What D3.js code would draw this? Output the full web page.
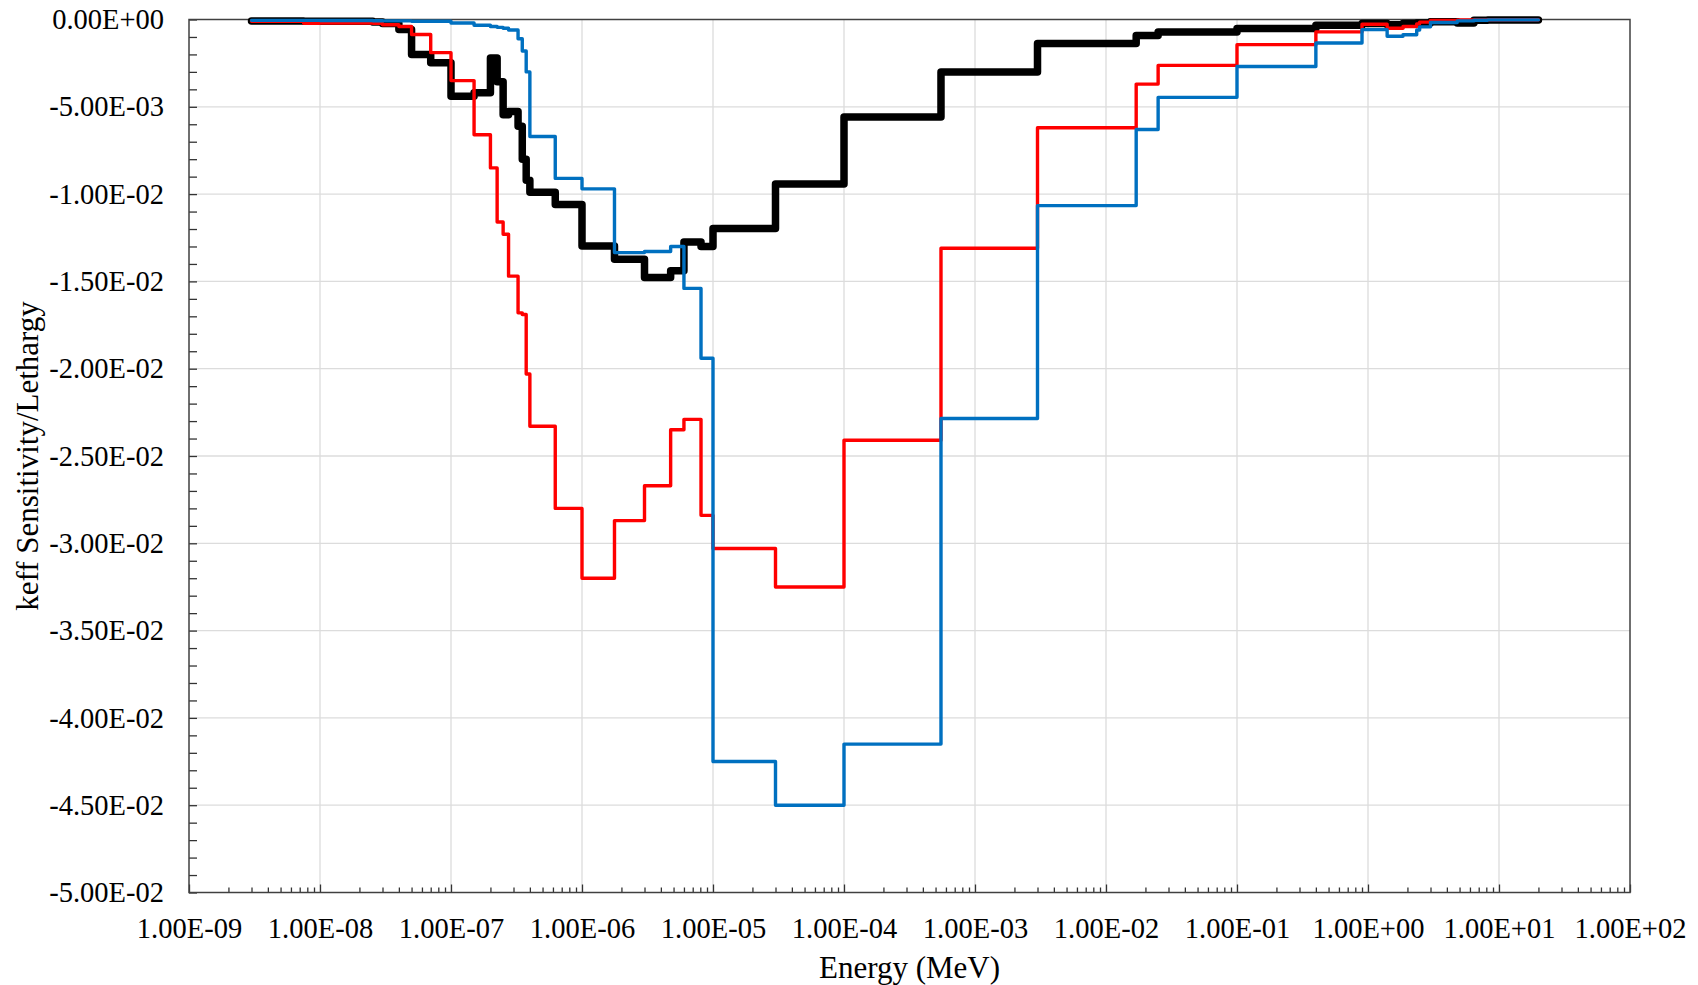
<!DOCTYPE html>
<html lang="en">
<head>
    <meta charset="UTF-8">
    <title>keff Sensitivity per Lethargy</title>
    <script src="https://d3js.org/d3.v7.min.js"></script>
    <style>
        body {
            margin: 0;
            background: #fff;
        }
        svg text {
            font-family: "Liberation Serif", "Times New Roman", serif;
            fill: #000;
        }
        .tick-label {
            font-size: 28.5px;
        }
        .axis-title {
            font-size: 31px;
        }
    </style>
</head>
<body>
    <svg id="chart"></svg>

    <script>
        // energy group boundaries (MeV), 44-group structure above 3e-9
        const energyBounds = [3e-9, 7.5e-9, 1e-8, 2.53e-8, 3e-8, 4e-8, 5e-8, 7e-8, 1e-7, 1.5e-7,
            2e-7, 2.25e-7, 2.5e-7, 2.75e-7, 3.25e-7, 3.5e-7, 3.75e-7, 4e-7, 6.25e-7, 1e-6,
            1.77e-6, 3e-6, 4.75e-6, 6e-6, 8.1e-6, 1e-5, 3e-5, 1e-4, 5.5e-4, 3e-3,
            1.7e-2, 2.5e-2, 0.1, 0.4, 0.9, 1.4, 1.85, 2.354, 2.479, 3,
            4.8, 6.434, 8.187, 20];

        // sensitivity per lethargy, one value per group (low -> high energy)
        const blackSens = [-0.00008, -0.0001, -0.0001, -0.00015, -0.00023, -0.00057, -0.0020, -0.00247, -0.0044, -0.0042,
            -0.0022, -0.00356, -0.00546, -0.00527, -0.00612, -0.0080, -0.0092, -0.00989, -0.01059, -0.01297,
            -0.01373, -0.01477, -0.01439, -0.01274, -0.0130, -0.01197, -0.00942, -0.00558, -0.0030, -0.00137,
            -0.00092, -0.00071, -0.00052, -0.00033, -0.00023, -0.0003, -0.00023, -0.0002, -0.0002, -0.00013,
            -0.0002, -0.00005, -0.00003];

        const redSens = [-0.0001, -0.00022, -0.0002, -0.00022, -0.0003, -0.0004, -0.00086, -0.0019, -0.0035, -0.0066,
            -0.0085, -0.0116, -0.0123, -0.0147, -0.0168, -0.0169, -0.0203, -0.0233, -0.0280, -0.0320,
            -0.0287, -0.0267, -0.0235, -0.0229, -0.0284, -0.0303, -0.0325, -0.0241, -0.0131, -0.0062,
            -0.0037, -0.00263, -0.00144, -0.00071, -0.00027, -0.0005, -0.0004, -0.00025, -0.00015, -0.00005,
            -0.00003, -0.00002, -0.00001];

        const blueSens = [-0.00005, -0.00005, -0.00006, -0.00007, -0.00008, -0.00008, -0.0001, -0.0001, -0.0002, -0.00033,
            -0.0004, -0.00045, -0.0005, -0.0006, -0.0011, -0.0018, -0.0030, -0.0067, -0.0091, -0.0097,
            -0.01335, -0.01329, -0.0130, -0.0154, -0.0194, -0.0425, -0.0450, -0.0415, -0.02285, -0.01066,
            -0.0063, -0.00446, -0.00269, -0.00135, -0.00058, -0.00096, -0.00087, -0.0006, -0.00042, -0.00017,
            -0.00008, -0.00004, -0.00002];

        const xTicks = [1e-9, 1e-8, 1e-7, 1e-6, 1e-5, 1e-4, 1e-3, 1e-2, 1e-1, 1e0, 1e1, 1e2];
        const yTicks = [0, -0.005, -0.01, -0.015, -0.02, -0.025, -0.03, -0.035, -0.04, -0.045, -0.05];

        const width = 1698;
        const height = 985;
        const plot = { left: 189, right: 1630, top: 19.5, bottom: 892.5 };

        const svg = d3.select("#chart")
            .attr("width", width)
            .attr("height", height);

        const x = d3.scaleLog().domain([1e-9, 1e2]).range([plot.left, plot.right]);
        const y = d3.scaleLinear().domain([-0.05, 0]).range([plot.bottom, plot.top]);

        function fmtE(v) {
            const parts = v.toExponential(2).split("e");
            const exp = parts[1];
            return parts[0] + "E" + exp[0] + exp.slice(1).padStart(2, "0");
        }

        // gridlines
        svg.append("g").selectAll("line.vgrid")
            .data(xTicks.slice(1, -1))
            .join("line")
            .attr("x1", d => x(d)).attr("x2", d => x(d))
            .attr("y1", plot.top).attr("y2", plot.bottom)
            .attr("stroke", "#dcdcdc").attr("stroke-width", 1.3);

        svg.append("g").selectAll("line.hgrid")
            .data(yTicks.slice(1, -1))
            .join("line")
            .attr("x1", plot.left).attr("x2", plot.right)
            .attr("y1", d => y(d)).attr("y2", d => y(d))
            .attr("stroke", "#dcdcdc").attr("stroke-width", 1.3);

        // minor ticks (inward)
        const xMinor = [];
        xTicks.slice(0, -1).forEach(d => {
            for (let k = 2; k <= 9; k++) xMinor.push(d * k);
        });
        svg.append("g")
            .attr("transform", `translate(0,${plot.bottom})`)
            .call(d3.axisBottom(x).tickValues(xMinor).tickSize(-5).tickFormat(""))
            .call(g => g.select(".domain").remove())
            .selectAll("line").attr("stroke", "#333").attr("stroke-width", 1.3);

        svg.append("g")
            .attr("transform", `translate(0,${plot.bottom})`)
            .call(d3.axisBottom(x).tickValues(xTicks).tickSize(-8).tickFormat(""))
            .call(g => g.select(".domain").remove())
            .selectAll("line").attr("stroke", "#333").attr("stroke-width", 1.3);

        const yMinor = d3.range(0, 51).map(i => -i * 0.001);
        svg.append("g")
            .attr("transform", `translate(${plot.left},0)`)
            .call(d3.axisLeft(y).tickValues(yMinor).tickSize(-8).tickFormat(""))
            .call(g => g.select(".domain").remove())
            .selectAll("line").attr("stroke", "#333").attr("stroke-width", 1.3);

        // plot border
        svg.append("rect")
            .attr("x", plot.left).attr("y", plot.top)
            .attr("width", plot.right - plot.left)
            .attr("height", plot.bottom - plot.top)
            .attr("fill", "none")
            .attr("stroke", "#404040")
            .attr("stroke-width", 1.5);

        // tick labels
        svg.append("g")
            .attr("transform", `translate(0,${plot.bottom})`)
            .call(d3.axisBottom(x).tickValues(xTicks).tickSize(0).tickPadding(25).tickFormat(fmtE))
            .call(g => g.select(".domain").remove())
            .selectAll("text")
            .attr("class", "tick-label")
            .attr("font-family", null)
            .attr("font-size", null);

        svg.append("g")
            .attr("transform", `translate(${plot.left},0)`)
            .call(d3.axisLeft(y).tickValues(yTicks).tickSize(0).tickPadding(25).tickFormat(fmtE))
            .call(g => g.select(".domain").remove())
            .selectAll("text")
            .attr("class", "tick-label")
            .attr("font-family", null)
            .attr("font-size", null);

        // step lines
        function stepPoints(vals) {
            const pts = vals.map((v, i) => ({ e: energyBounds[i], v: v }));
            pts.push({ e: energyBounds[vals.length], v: vals[vals.length - 1] });
            return pts;
        }

        const line = d3.line()
            .x(d => x(d.e))
            .y(d => y(d.v))
            .curve(d3.curveStepAfter);

        const series = [
            { name: "black", values: blackSens, color: "#000000", width: 7.5 },
            { name: "red", values: redSens, color: "#ff0000", width: 3.4 },
            { name: "blue", values: blueSens, color: "#0070c0", width: 3.4 }
        ];

        svg.append("g").selectAll("path.series")
            .data(series)
            .join("path")
            .attr("class", "series")
            .attr("d", d => line(stepPoints(d.values)))
            .attr("fill", "none")
            .attr("stroke", d => d.color)
            .attr("stroke-width", d => d.width)
            .attr("stroke-linejoin", "round")
            .attr("stroke-linecap", "round");

        // axis titles
        svg.append("text")
            .attr("class", "axis-title")
            .attr("x", (plot.left + plot.right) / 2)
            .attr("y", 978)
            .attr("text-anchor", "middle")
            .text("Energy (MeV)");

        svg.append("text")
            .attr("class", "axis-title")
            .attr("transform", `translate(27,${(plot.top + plot.bottom) / 2}) rotate(-90)`)
            .attr("dy", "0.35em")
            .attr("text-anchor", "middle")
            .text("keff Sensitivity/Lethargy");
    </script>
</body>
</html>
